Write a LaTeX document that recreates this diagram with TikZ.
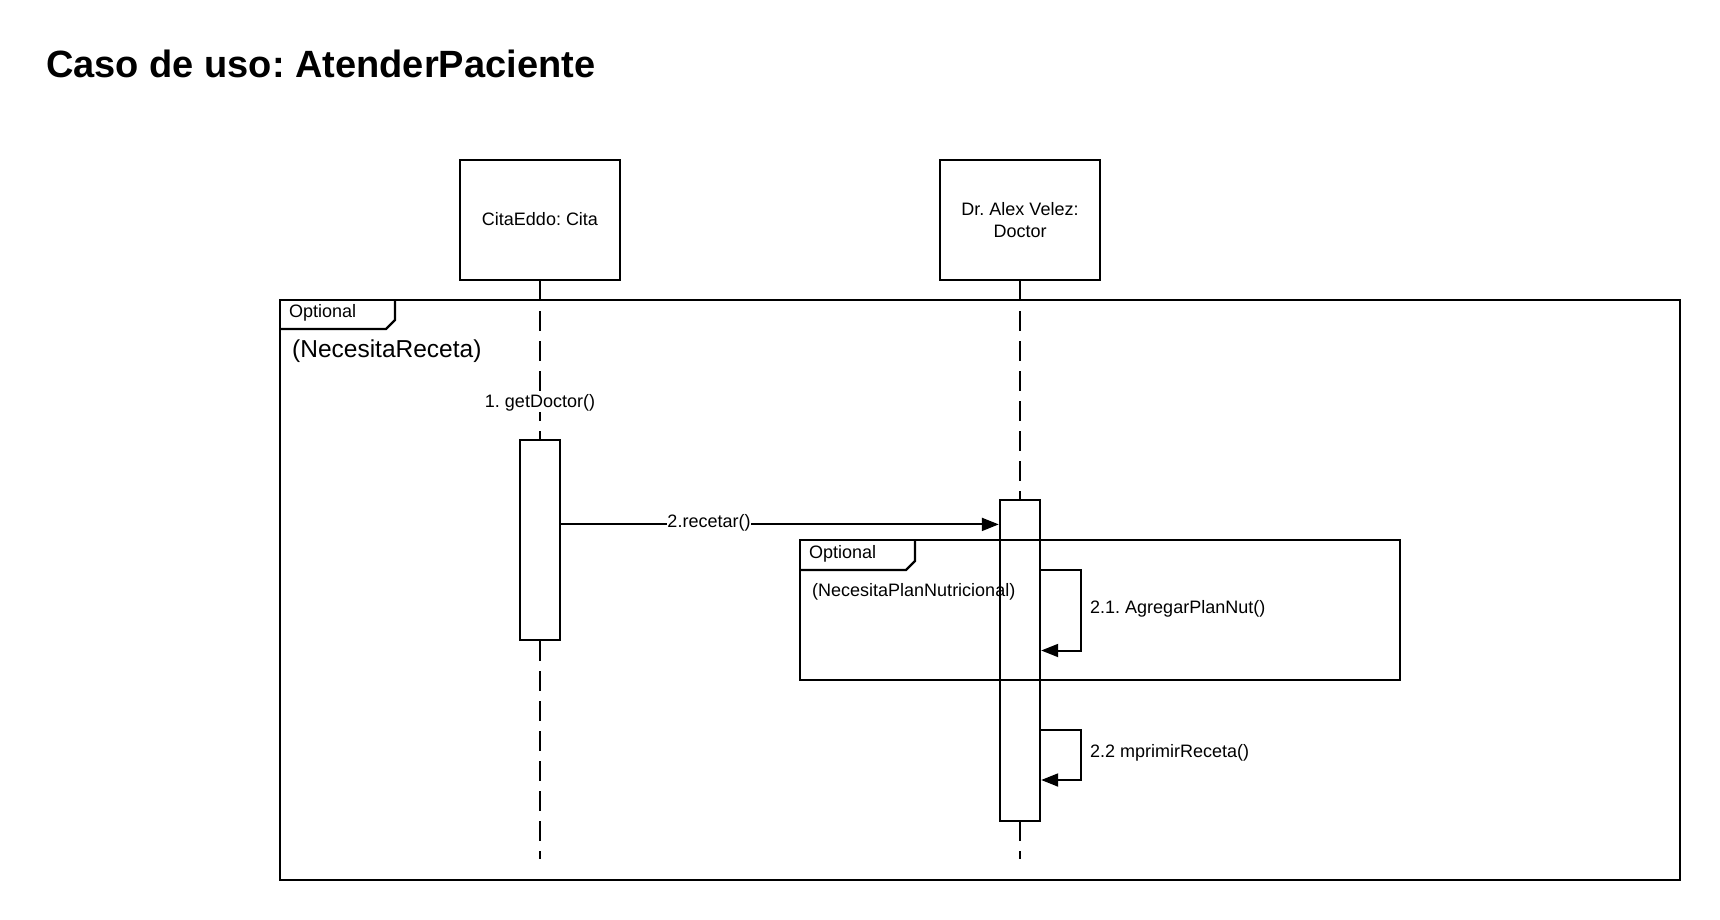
\documentclass[tikz,border=0pt]{standalone}
\usepackage{fontspec}
\setmainfont{Liberation Sans}
\usetikzlibrary{arrows.meta}
\frenchspacing
\tikzset{
  lifebox/.style={draw, line width=2.4pt, fill=white, minimum width=160pt, minimum height=120pt, inner sep=0pt, align=center, font=\fontsize{18}{22}\selectfont},
  actbox/.style={draw, line width=2.4pt, fill=white, minimum width=40pt, inner sep=0pt},
  frameline/.style={line width=2.4pt},
  lifeline/.style={line width=2pt, dash pattern=on 20pt off 10pt},
  msg/.style={line width=2pt, -{Triangle[length=17pt,width=13pt]}},
  lbl/.style={font=\fontsize{18}{22}\selectfont, inner sep=1pt},
}
\begin{document}
\begin{tikzpicture}[x=1pt,y=-1pt]
\useasboundingbox (0,0) rectangle (1720,920);
% title
\node[anchor=base west, inner sep=0pt, font=\fontsize{38}{44}\selectfont\bfseries] (title) at (46,78) {Caso de uso: AtenderPaciente};
% outer frame
\draw[frameline] (280,300) rectangle (1680,880);
\draw[frameline] (280,329) -- (386,329) -- (395,320) -- (395,300);
\node[lbl, anchor=west] (opt1) at (288,313) {Optional};
\node[anchor=west, inner sep=0pt, font=\fontsize{24.5}{28}\selectfont] (cond1) at (292,351) {(NecesitaReceta)};
% lifeline heads
\node[lifebox] (cita) at (540,220) {\raisebox{2pt}{CitaEddo: Cita}};
\node[lifebox] (doc) at (1020,220) {Dr. Alex Velez:\\Doctor};
\coordinate (citaend) at (540,859);
\coordinate (docend) at (1020,859);
\draw[lifeline] (cita.south) -- (citaend);
\draw[lifeline] (doc.south) -- (docend);
% getDoctor label
\node[lbl, fill=white] (getdoc) at (540,403) {1. getDoctor()};
% activation boxes
\node[actbox, minimum height=200pt] (act1) at (540,540) {};
\node[actbox, minimum height=321pt] (act2) at (1020,660.3) {};
% inner frame
\draw[frameline] (800,540) rectangle (1400,680);
\draw[frameline] (800,570) -- (906,570) -- (915,561) -- (915,540);
\node[lbl, anchor=west] (opt2) at (808,554) {Optional};
\node[lbl, anchor=west] (cond2) at (811,592) {(NecesitaPlanNutricional)};
% message 2
\coordinate (m2s) at (act1.east |- 0,524.4);
\coordinate (m2e) at (act2.west |- 0,524.4);
\draw[msg] (m2s) -- (m2e);
\node[lbl, fill=white, inner sep=0.5pt] (recetar) at (709,523) {2.recetar()};
% self message 2.1
\coordinate (s1a) at (act2.east |- 0,570.4);
\coordinate (s1b) at (act2.east |- 0,650.5);
\draw[msg] (s1a) -- (1080.5,570.4) -- (1080.5,650.5) -- (s1b);
\node[lbl, anchor=west] (l21) at (1089,609) {2.1. AgregarPlanNut()};
% self message 2.2
\coordinate (s2a) at (act2.east |- 0,729.5);
\coordinate (s2b) at (act2.east |- 0,780);
\draw[msg] (s2a) -- (1080.5,729.5) -- (1080.5,780) -- (s2b);
\node[lbl, anchor=west] (l22) at (1089,753) {2.2 mprimirReceta()};
\end{tikzpicture}
\end{document}
